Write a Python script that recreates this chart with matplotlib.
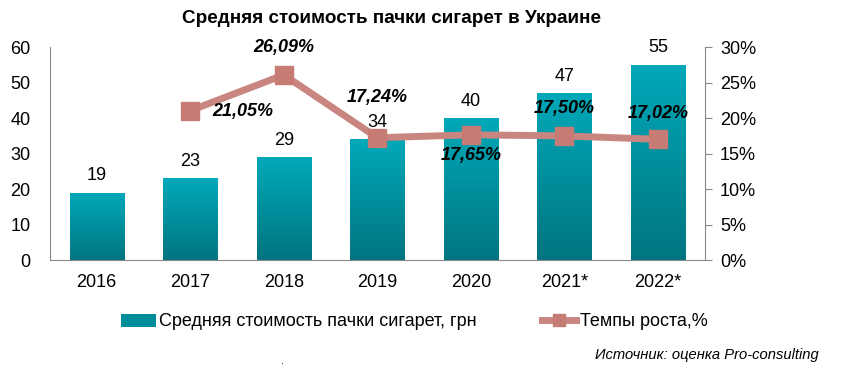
import numpy as np
import matplotlib.pyplot as plt
from matplotlib.patches import Patch
from matplotlib.lines import Line2D
from matplotlib.colors import LinearSegmentedColormap

plt.rcParams['font.family'] = ['Liberation Sans', 'DejaVu Sans']

years = ['2016', '2017', '2018', '2019', '2020', '2021*', '2022*']
price = [19, 23, 29, 34, 40, 47, 55]
growth_years = ['2017', '2018', '2019', '2020', '2021*', '2022*']
growth = [21.05, 26.09, 17.24, 17.65, 17.50, 17.02]
growth_labels = ['21,05%', '26,09%', '17,24%', '17,65%', '17,50%', '17,02%']

fig = plt.figure(figsize=(8.46, 3.68), dpi=100)
ax = fig.add_axes([0.059, 0.293, 0.774, 0.579])
ax2 = ax.twinx()

x = np.arange(len(years))
w = 0.58
bars = ax.bar(x, price, width=w, color='#0095A3', zorder=2)

# vertical gradient in bars
cmap = LinearSegmentedColormap.from_list('teal', ['#007580', '#00A9B9'])
grad = np.linspace(0, 1, 256).reshape(-1, 1)
for b in bars:
    bx, by = b.get_x(), b.get_y()
    bw, bh = b.get_width(), b.get_height()
    im = ax.imshow(grad, cmap=cmap, origin='lower', aspect='auto',
                   extent=[bx, bx + bw, by, by + bh], zorder=2)
    im.set_clip_path(b)
    b.set_alpha(0)

for xi, v in zip(x, price):
    ax.text(xi, v + 2.4, str(v), ha='center', va='bottom', fontsize=13)

ax.set_xlim(-0.5, len(years) - 0.5)
ax.set_ylim(0, 60)
ax.set_yticks(range(0, 61, 10))
ax.set_xticks(x)
ax.set_xticklabels(years)
ax.tick_params(axis='x', length=0, labelsize=13, pad=10)
ax.tick_params(axis='y', length=0, labelsize=13, pad=14)
for s in ['top', 'right']:
    ax.spines[s].set_visible(False)
for s in ['left', 'bottom']:
    ax.spines[s].set_color('#898989')

gx = [years.index(g) for g in growth_years]
ax2.plot(gx, growth, color='#C98680', lw=5, marker='s', ms=13,
         mfc='#C67C74', mec='#C67C74', zorder=3, solid_capstyle='round')
ax2.set_ylim(0, 30)
ax2.set_yticks(range(0, 31, 5))
ax2.set_yticklabels([f'{t}%' for t in range(0, 31, 5)])
ax2.tick_params(axis='y', length=5, color='#898989', labelsize=13, pad=6)
for s in ['top', 'left', 'bottom']:
    ax2.spines[s].set_visible(False)
ax2.spines['right'].set_color('#898989')

offsets = [(0.56, -0.1), (0, 3.8), (0, 5.6), (0, -2.9), (0, 3.8), (0, 3.7)]
for xi, v, lab, (dx, dy) in zip(gx, growth, growth_labels, offsets):
    ax2.text(xi + dx, v + dy, lab, ha='center', va='center', fontsize=13,
             fontweight='bold', fontstyle='italic', zorder=4)

fig.text(0.463, 0.95, 'Средняя стоимость пачки сигарет в Украине',
         ha='center', va='center', fontsize=13.6, fontweight='bold')

handles = [Patch(facecolor='#008D9A', edgecolor='none'),
           Line2D([0], [0], color='#C98680', lw=5, marker='s', ms=8,
                  mfc='#C67C74', mec='#C67C74')]
fig.legend(handles, ['Средняя стоимость пачки сигарет, грн', 'Темпы роста,%'],
           loc='center', bbox_to_anchor=(0.49, 0.125), ncol=2, frameon=False,
           fontsize=13, handlelength=1.9, handletextpad=0.2, columnspacing=3.6)

fig.text(0.968, 0.035, 'Источник: оценка Pro-consulting', ha='right',
         va='center', fontsize=10.6, fontstyle='italic')
fig.text(0.334, 0.005, '.', ha='center', va='bottom', fontsize=8)

fig.savefig('out.png', dpi=100)
